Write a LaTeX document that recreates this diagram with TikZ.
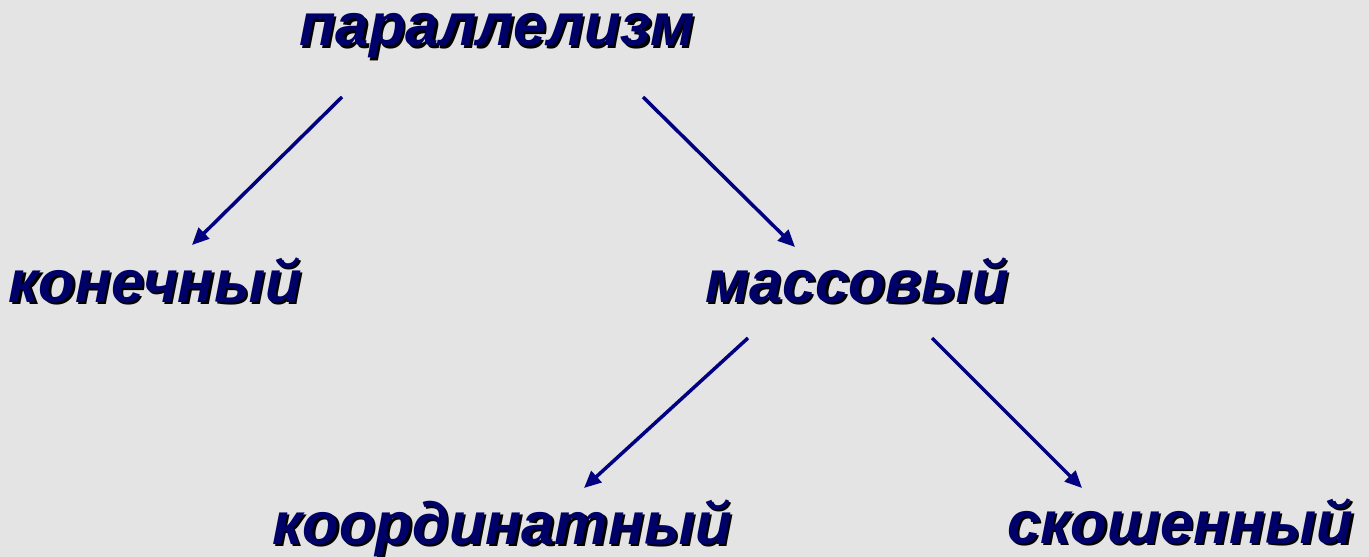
\documentclass[tikz,border=0pt]{standalone}
\usepackage{fontspec}
\setmainfont{Liberation Sans}
\usetikzlibrary{arrows.meta}

\definecolor{wordblue}{RGB}{0,0,105}
\definecolor{arrowblue}{RGB}{0,0,128}
\definecolor{paper}{RGB}{228,228,228}

% text with a black drop shadow
\newcommand{\shadowword}[1]{\rlap{\kern0.05cm\raisebox{-0.05cm}{\textcolor{black}{#1}}}#1}

\begin{document}
\begin{tikzpicture}[x=0.02cm, y=-0.02cm,
    word/.style={inner sep=0pt, anchor=base, text=wordblue,
        font=\fontsize{34}{40}\selectfont\bfseries\itshape},
    link/.style={draw=arrowblue, line width=0.07cm,
        -{Triangle[length=0.34cm, width=0.3cm]}}]

    % background
    \fill[paper] (0,0) rectangle (1369,557);
    \useasboundingbox (0,0) rectangle (1369,557);

    % ===== words =====
    \node[word] (par) at (497,46) {\shadowword{параллелизм}};
    \node[word] (kon) at (155,302) {\shadowword{конечный}};
    \node[word] (mas) at (857,302) {\shadowword{массовый}};
    \node[word] (koo) at (502,544) {\shadowword{координатный}};
    \node[word] (sko) at (1180,543) {\shadowword{скошенный}};

    % ===== arrows =====
    \draw[link] ([shift={(-155,51)}]par.base) -- ([shift={(37,-57)}]kon.base);
    \draw[link] ([shift={(146,51)}]par.base) -- ([shift={(-62,-55)}]mas.base);
    \draw[link] ([shift={(-109,36)}]mas.base) -- ([shift={(82,-56)}]koo.base);
    \draw[link] ([shift={(75,36)}]mas.base) -- ([shift={(-98,-55)}]sko.base);

\end{tikzpicture}
\end{document}
